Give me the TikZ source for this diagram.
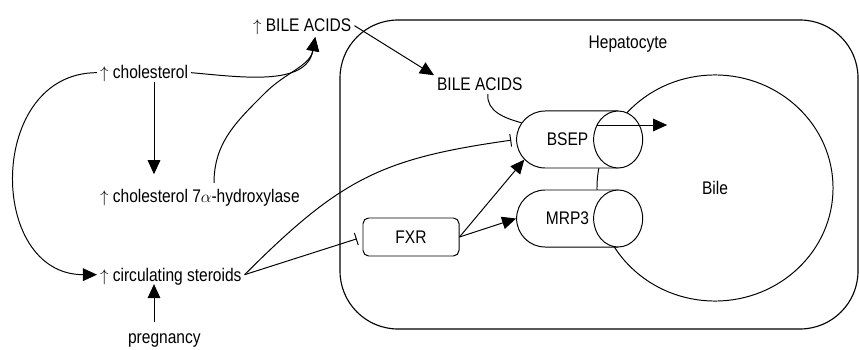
\documentclass[tikz,border=0pt]{standalone}
\usepackage{fontspec}
\setmainfont{Liberation Sans}[FakeStretch=0.85]
\usetikzlibrary{arrows.meta,positioning,calc,shapes.geometric,shapes.misc}
\tikzset{
  lbl/.style={inner sep=2pt,text height=9pt,text depth=0pt,font=\fontsize{13}{15}\selectfont},
  pill/.style={rounded rectangle,rounded rectangle right arc=none,draw,fill=white,line width=0.7pt,minimum width=2.525cm,minimum height=1.425cm,inner sep=0pt,font=\fontsize{13}{15}\selectfont},
  capend/.style={ellipse,draw,fill=white,line width=0.7pt,minimum width=1.225cm,minimum height=1.425cm,inner sep=0pt},
  boxr/.style={draw,rounded corners=4pt,line width=0.7pt,minimum width=2.4cm,minimum height=0.95cm,font=\fontsize{13}{15}\selectfont},
  arr/.style={-{Triangle[length=10pt,width=9pt]},line width=0.7pt},
  inh/.style={-{Bar[width=9pt]},line width=0.7pt},
  ln/.style={line width=0.7pt},
}
\begin{document}
\begin{tikzpicture}[x=0.025cm,y=0.025cm]
  \useasboundingbox (0,0) rectangle (859,349);
  % hepatocyte and bile
  \draw[line width=0.8pt,rounded corners=1.45cm] (340,20) rectangle (858,329);
  \node[ellipse,draw,line width=0.7pt,minimum width=5.9cm,minimum height=5.65cm,inner sep=0pt,font=\fontsize{13}{15}\selectfont] (bile) at (715,161) {Bile};
  \node[lbl,anchor=base] (hepa) at (628,300) {Hepatocyte};
  % transporters
  \node[pill] (bsep) at (567.5,209.5) {BSEP};
  \node[capend] (bsepend) at (bsep.east) {};
  \node[pill] (mrp) at (567.5,130.5) {MRP3};
  \node[capend] (mrpend) at (mrp.east) {};
  \node[boxr] (fxr) at (411,112) {FXR};
  % texts
  \node[lbl,anchor=base west] (bileup) at (250,317) {$\uparrow$ BILE ACIDS};
  \node[lbl,anchor=base west] (bilein) at (434,258) {BILE ACIDS};
  \node[lbl,anchor=base west] (chol) at (97,270) {$\uparrow$ cholesterol};
  \node[lbl,anchor=base west] (hydrox) at (97,147) {$\uparrow$ cholesterol 7$\alpha$-hydroxylase};
  \node[lbl,anchor=base west] (steroids) at (97,68) {$\uparrow$ circulating steroids};
  \node[lbl,anchor=base west] (preg) at (125,6) {pregnancy};
  \coordinate (ax) at (154,0);
  \coordinate (ba) at ($(bileup.base)+(13,-5)$);
  \coordinate (bsepin) at ($(bsepend.center)+(-21,14.5)$);
  \coordinate (bileout) at ($(bsepin)+(70,0)$);
  % connectors
  \draw[arr] (chol.east) to[out=-5,in=-100] (ba);
  \draw[arr] ($(hydrox.base west)+(117,19)$) to[out=90,in=-135] (265,256) to[out=45,in=-100] (ba);
  \draw[arr,shorten >=0.3cm] (chol.south -| ax) -- (hydrox.north -| ax);
  \draw[arr] (chol.west) to[out=180,in=180,looseness=1.4] (steroids.west);
  \draw[arr,shorten <=0.12cm] (preg.north -| ax) -- (steroids.south -| ax);
  \draw[inh,shorten >=0.125cm] (steroids.east) to[out=45,in=188,looseness=1.15] (bsep.west);
  \draw[inh,shorten >=0.15cm] (steroids.east) -- (fxr.west);
  \draw[arr] (fxr.east) -- (bsep.205);
  \draw[arr] (fxr.east) -- (mrp.west);
  \draw[arr] (bileup.east) -- (bilein.north west);
  \draw[ln] ([xshift=0.2cm]bilein.south) to[out=-95,in=165] (bsep.160);
  \draw[arr] (bsepin) -- (bileout);
\end{tikzpicture}
\end{document}
